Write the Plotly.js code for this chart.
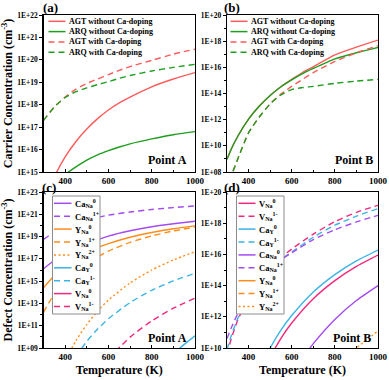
<!DOCTYPE html>
<html><head><meta charset="utf-8">
<script src="https://cdn.plot.ly/plotly-3.0.1.min.js"></script>
<style>html,body{margin:0;padding:0;background:#fff}#chart{width:389px;height:380px}</style>
</head><body><div id="chart"></div>
<script>
// ---------- DATA ----------
// Panel (a): carrier concentration, Point A
const tempA   = [300,350,400,450,500,550,600,650,700,800,900,1000];
const aAgtNo  = [4.0e13,6.0e14,4.7e15,2.3e16,8.3e16,2.4e17,5.8e17,1.2e18,2.2e18,6.3e18,1.4e19,2.7e19];
const aArqNo  = [6.6e13,2.7e14,7.8e14,1.7e15,3.4e15,5.8e15,8.9e15,1.3e16,1.8e16,3.0e16,4.6e16,6.3e16];
const aAgtCa  = [2.0e17,7.9e17,2.2e18,5.0e18,8.9e18,1.4e19,2.2e19,3.4e19,5.0e19,9.5e19,1.8e20,3.0e20];
const aArqCa  = [2.0e17,7.9e17,2.1e18,3.8e18,5.6e18,7.9e18,1.07e19,1.5e19,2.0e19,3.2e19,4.6e19,6.3e19];
// Panel (b): carrier concentration, Point B
const tempB   = [300,320,350,400,450,500,550,600,650,700,800,900,1000];
const bAgtNo  = [1.0e9,5.8e9,5.4e10,1.1e12,1.1e13,7.1e13,3.3e14,1.2e15,4.0e15,1.1e16,8.9e16,3.5e17,1.2e18];
const bArqNo  = [8.9e8,5.8e9,5.4e10,1.1e12,1.1e13,7.1e13,3.3e14,1.1e15,3.3e15,8.3e15,4.5e16,1.3e17,3.3e17];
const bAgtCa  = [4.0e6,5.0e7,1.0e9,1.0e11,1.6e12,1.6e13,8.9e13,3.5e14,1.2e15,4.0e15,2.8e16,1.3e17,4.5e17];
const bArqCa  = [4.0e6,5.0e7,1.0e9,1.0e11,1.6e12,1.6e13,7.9e13,2.0e14,2.8e14,3.5e14,6.0e14,8.9e14,1.2e15];
// Panel (c): defect concentration, Point A
const tempC     = [300,350,400,450,500,600,700,800,900,1000];
const cCaNa0    = [1.3e16,7.1e16,2.5e17,7.9e17,2.2e18,1.1e19,3.3e19,7.6e19,1.4e20,2.4e20];
const cCaNa1    = [5.6e18,2.5e19,7.1e19,1.6e20,3.2e20,8.3e20,1.6e21,2.7e21,4.0e21,5.6e21];
const cYNa0     = [2.5e14,3.2e15,2.5e16,1.1e17,4.0e17,2.3e18,8.7e18,2.3e19,5.0e19,9.1e19];
const cYNa1     = [1.6e12,7.1e13,1.0e15,7.9e15,4.0e16,5.0e17,3.0e18,1.15e19,3.2e19,7.1e19];
const tempC_YNa2 = [420,450,500,550,600,700,800,900,1000];
const cYNa2     = [4.0e8,4.5e9,1.3e11,2.0e12,2.0e13,6.9e14,1.0e16,7.9e16,4.4e17];
const tempC_CaY0 = [900,950,1000];
const cCaY0     = [3.0e8,2.1e9,1.26e10];
const tempC_CaY1 = [450,500,550,600,700,800,900,1000];
const cCaY1     = [1.7e8,3.9e9,5.0e10,4.2e11,1.2e13,1.5e14,1.05e15,5.0e15];
const tempC_VNa0 = [800,900,1000];
const cVNa0     = [3.0e6,3.0e7,2.0e8];
const tempC_VNa1 = [600,700,800,900,1000];
const cVNa1     = [1.1e8,9.5e9,2.7e11,3.7e12,3.0e13];
// Panel (d): defect concentration, Point B
const tempD     = [300,320,350,400,450,500,550,600,700,800,900,1000];
const dVNa1     = [4.0e9,4.0e10,6.3e11,1.6e13,2.0e14,1.26e15,6.3e15,2.2e16,2.0e17,1.26e18,5.0e18,1.4e19];
const dCaY1     = [7.9e9,6.3e10,7.9e11,1.6e13,1.6e14,1.0e15,4.5e15,1.4e16,1.26e17,7.4e17,2.8e18,8.7e18];
const dCaNa1    = [4.0e10,2.0e11,1.6e12,2.5e13,2.0e14,1.1e15,4.5e15,1.26e16,8.9e16,3.8e17,1.2e18,3.2e18];
const tempD_VNa0 = [500,550,600,700,800,900,1000];
const dVNa0     = [2.7e9,4.2e10,4.0e11,1.45e13,2.1e14,1.7e15,9.1e15];
const tempD_CaY0 = [480,500,550,600,700,800,900,1000];
const dCaY0     = [3.0e9,1.0e10,1.4e11,1.2e12,3.9e13,5.1e14,3.8e15,1.9e16];
const tempD_CaNa0 = [650,700,800,900,1000];
const dCaNa0    = [2.1e9,1.9e10,6.8e11,1.1e13,1.0e14];
const tempD_YNa0 = [800,900,1000];
const dYNa0     = [3.0e6,2.0e7,1.0e8];
const dYNa1     = [1.0e6,1.0e7,6.0e7];
const tempD_YNa2 = [850,900,950,1000];
const dYNa2     = [1.6e9,1.0e10,3.5e10,1.26e11];

// Tick labels
const xTickVals  = [400,600,800,1000];
const xTickText  = ['400','600','800','1000'];
const xMinorVals = [300,500,700,900];
const yTickValsA = [1e15,1e16,1e17,1e18,1e19,1e20,1e21,1e22];
const yTickTextA = ['1E+15','1E+16','1E+17','1E+18','1E+19','1E+20','1E+21','1E+22'];
const yTickValsB = [1e8,1e10,1e12,1e14,1e16,1e18,1e20];
const yTickTextB = ['1E+08','1E+10','1E+12','1E+14','1E+16','1E+18','1E+20'];
const yMinorB    = [1e9,1e11,1e13,1e15,1e17,1e19];
const yTickValsC = [1e9,1e11,1e13,1e15,1e17,1e19,1e21,1e23];
const yTickTextC = ['1E+09','1E+11','1E+13','1E+15','1E+17','1E+19','1E+21','1E+23'];
const yMinorC    = [1e10,1e12,1e14,1e16,1e18,1e20,1e22];
const yTickValsD = [1e10,1e12,1e14,1e16,1e18,1e20];
const yTickTextD = ['1E+10','1E+12','1E+14','1E+16','1E+18','1E+20'];
const yMinorD    = [1e11,1e13,1e15,1e17,1e19];

// Names
const nAgtNo = 'AGT without Ca-doping', nArqNo = 'ARQ without Ca-doping';
const nAgtCa = 'AGT with Ca-doping', nArqCa = 'ARQ with Ca-doping';
const nCaNa0 = 'Ca<sub>Na</sub><sup>0</sup>', nCaNa1 = 'Ca<sub>Na</sub><sup>1+</sup>';
const nYNa0 = 'Y<sub>Na</sub><sup>0</sup>', nYNa1 = 'Y<sub>Na</sub><sup>1+</sup>', nYNa2 = 'Y<sub>Na</sub><sup>2+</sup>';
const nCaY0 = 'Ca<sub>Y</sub><sup>0</sup>', nCaY1 = 'Ca<sub>Y</sub><sup>1-</sup>';
const nVNa0 = 'V<sub>Na</sub><sup>0</sup>', nVNa1 = 'V<sub>Na</sub><sup>1-</sup>';

// ---------- STYLE ----------
const W = 389, H = 380;
const FONT = 'Liberation Serif, Times New Roman, serif';
const RED = '#FF5A5A', GREEN = '#1E9E1E', PURPLE = '#A24BF0', ORANGE = '#FF8C1A', BLUE = '#3BB4E6', PINK = '#F2287D';
const SOLID = 'solid', DASH = '6px,4px', DOT = '2px,2.5px';
const px = x => x / W, py = y => 1 - y / H;

function tr(x, y, name, color, dash, xa, ya) {
  return {type:'scatter', mode:'lines', x:x, y:y, name:name, xaxis:xa, yaxis:ya,
    line:{color:color, width:1.4, dash:dash, shape:'spline', smoothing:0.6},
    showlegend:false, hoverinfo:'skip'};
}

const sA = [
  {x:tempA, y:aAgtNo, n:nAgtNo, c:RED, d:SOLID},
  {x:tempA, y:aArqNo, n:nArqNo, c:GREEN, d:SOLID},
  {x:tempA, y:aAgtCa, n:nAgtCa, c:RED, d:DASH},
  {x:tempA, y:aArqCa, n:nArqCa, c:GREEN, d:DASH}];
const sB = [
  {x:tempB, y:bAgtNo, n:nAgtNo, c:RED, d:SOLID},
  {x:tempB, y:bArqNo, n:nArqNo, c:GREEN, d:SOLID},
  {x:tempB, y:bAgtCa, n:nAgtCa, c:RED, d:DASH},
  {x:tempB, y:bArqCa, n:nArqCa, c:GREEN, d:DASH}];
const sC = [
  {x:tempC, y:cCaNa0, n:nCaNa0, c:PURPLE, d:SOLID},
  {x:tempC, y:cCaNa1, n:nCaNa1, c:PURPLE, d:DASH},
  {x:tempC, y:cYNa0, n:nYNa0, c:ORANGE, d:SOLID},
  {x:tempC, y:cYNa1, n:nYNa1, c:ORANGE, d:DASH},
  {x:tempC_YNa2, y:cYNa2, n:nYNa2, c:ORANGE, d:DOT},
  {x:tempC_CaY0, y:cCaY0, n:nCaY0, c:BLUE, d:SOLID},
  {x:tempC_CaY1, y:cCaY1, n:nCaY1, c:BLUE, d:DASH},
  {x:tempC_VNa0, y:cVNa0, n:nVNa0, c:PINK, d:SOLID},
  {x:tempC_VNa1, y:cVNa1, n:nVNa1, c:PINK, d:DASH}];
const sD = [
  {x:tempD_VNa0, y:dVNa0, n:nVNa0, c:PINK, d:SOLID},
  {x:tempD, y:dVNa1, n:nVNa1, c:PINK, d:DASH},
  {x:tempD_CaY0, y:dCaY0, n:nCaY0, c:BLUE, d:SOLID},
  {x:tempD, y:dCaY1, n:nCaY1, c:BLUE, d:DASH},
  {x:tempD_CaNa0, y:dCaNa0, n:nCaNa0, c:PURPLE, d:SOLID},
  {x:tempD, y:dCaNa1, n:nCaNa1, c:PURPLE, d:DASH},
  {x:tempD_YNa0, y:dYNa0, n:nYNa0, c:ORANGE, d:SOLID},
  {x:tempD_YNa0, y:dYNa1, n:nYNa1, c:ORANGE, d:DASH},
  {x:tempD_YNa2, y:dYNa2, n:nYNa2, c:ORANGE, d:DOT}];

const data = [];
[[sA,'x','y'],[sB,'x2','y2'],[sC,'x3','y3'],[sD,'x4','y4']].forEach(([s,xa,ya]) =>
  s.forEach(o => data.push(tr(o.x, o.y, o.n, o.c, o.d, xa, ya))));

// ---------- AXES ----------
const L1 = [43.5, 195], L2 = [227, 378];
const T1 = [15, 172], T2 = [192, 348];
function xAx(cols, anchor, title) {
  const a = {domain:[px(cols[0]), px(cols[1])], anchor:anchor, range:[300,1000],
    tickmode:'array', tickvals:xTickVals, ticktext:xTickText,
    ticks:'inside', ticklen:3, tickwidth:1, tickcolor:'#000',
    minor:{tickmode:'array', tickvals:xMinorVals, ticks:'inside', ticklen:2, tickcolor:'#000', showgrid:false},
    showline:true, linecolor:'#000', linewidth:1.2, mirror:true, showgrid:false, zeroline:false,
    tickfont:{family:FONT, size:9, color:'#000', weight:'bold'}, automargin:false};
  if (title) a.title = {text:title, font:{family:FONT, size:12, color:'#000', weight:'bold'}, standoff:4};
  return a;
}
function yAx(rows, anchor, range, vals, txt, minor, title) {
  const a = {type:'log', domain:[py(rows[1]), py(rows[0])], anchor:anchor, range:range,
    tickmode:'array', tickvals:vals, ticktext:txt,
    ticks:'outside', ticklen:3, tickwidth:1, tickcolor:'#000',
    showline:true, linecolor:'#000', linewidth:1.2, mirror:true, showgrid:false, zeroline:false,
    tickfont:{family:FONT, size:7.5, color:'#000', weight:'bold'}, automargin:false};
  if (minor) a.minor = {tickmode:'array', tickvals:minor, ticks:'outside', ticklen:2, tickcolor:'#000', showgrid:false};
  if (title) a.title = {text:title, font:{family:FONT, size:12, color:'#000', weight:'bold'}, standoff:3};
  return a;
}

// ---------- LEGENDS & LABELS ----------
const shapes = [], annotations = [];
function legend(items, x0, y0, step, len, gap, fs, box) {
  if (box) shapes.push({type:'rect', xref:'paper', yref:'paper', layer:'above',
    x0:px(box[0]), x1:px(box[1]), y0:py(box[3]), y1:py(box[2]),
    fillcolor:'#fff', line:{color:'#8c8c8c', width:1}});
  items.forEach((o, i) => {
    const yy = y0 + i * step;
    shapes.push({type:'line', xref:'paper', yref:'paper', layer:'above',
      x0:px(x0), x1:px(x0 + len), y0:py(yy), y1:py(yy), line:{color:o.c, width:1.5, dash:o.d}});
    annotations.push({xref:'paper', yref:'paper', x:px(x0 + len + gap), y:py(yy), xanchor:'left', yanchor:'middle',
      text:o.n, showarrow:false, font:{family:FONT, size:fs, color:'#000', weight:'bold'}});
  });
}
legend(sA, 48.5, 21.3, 10.3, 17, 1.5, 8, null);
legend(sB, 230.5, 21.3, 10.3, 17, 1.5, 8, null);
legend(sC, 54, 203.3, 12.9, 17.5, 1.5, 8.5, [52.5, 100, 196, 314]);
legend(sD, 238.5, 203.3, 12.9, 17, 1.5, 8.5, [236.5, 284, 196, 314]);

function label(text, x, y, xa, ya, size) {
  annotations.push({xref:'paper', yref:'paper', x:px(x), y:py(y), xanchor:xa, yanchor:ya,
    text:text, showarrow:false, font:{family:FONT, size:size, color:'#000', weight:'bold'}});
}
label('Point A', 189, 160.5, 'right', 'middle', 12);
label('Point B', 374.5, 159.5, 'right', 'middle', 12);
label('Point A', 189, 338, 'right', 'middle', 12);
label('Point B', 373, 337.5, 'right', 'middle', 12);
label('(a)', 41, 17.5, 'left', 'bottom', 13);
label('(b)', 222, 17.5, 'left', 'bottom', 13);
label('(c)', 40, 197, 'left', 'bottom', 13);
label('(d)', 222, 197, 'left', 'bottom', 13);

const layout = {
  width:W, height:H, margin:{l:0, r:0, t:0, b:0}, paper_bgcolor:'#fff', plot_bgcolor:'#fff',
  showlegend:false, font:{family:FONT, color:'#000'},
  xaxis:xAx(L1,'y',null), yaxis:yAx(T1,'x',[15,22],yTickValsA,yTickTextA,null,'Carrier Concentration (cm<sup>-3</sup>)'),
  xaxis2:xAx(L2,'y2',null), yaxis2:yAx(T1,'x2',[8,20],yTickValsB,yTickTextB,yMinorB,null),
  xaxis3:xAx(L1,'y3','Temperature (K)'), yaxis3:yAx(T2,'x3',[9,23],yTickValsC,yTickTextC,yMinorC,'Defect Concentration (cm<sup>-3</sup>)'),
  xaxis4:xAx(L2,'y4','Temperature (K)'), yaxis4:yAx(T2,'x4',[10,20],yTickValsD,yTickTextD,yMinorD,null),
  shapes:shapes, annotations:annotations
};
Plotly.newPlot('chart', data, layout, {staticPlot:true, displayModeBar:false});
</script></body></html>
